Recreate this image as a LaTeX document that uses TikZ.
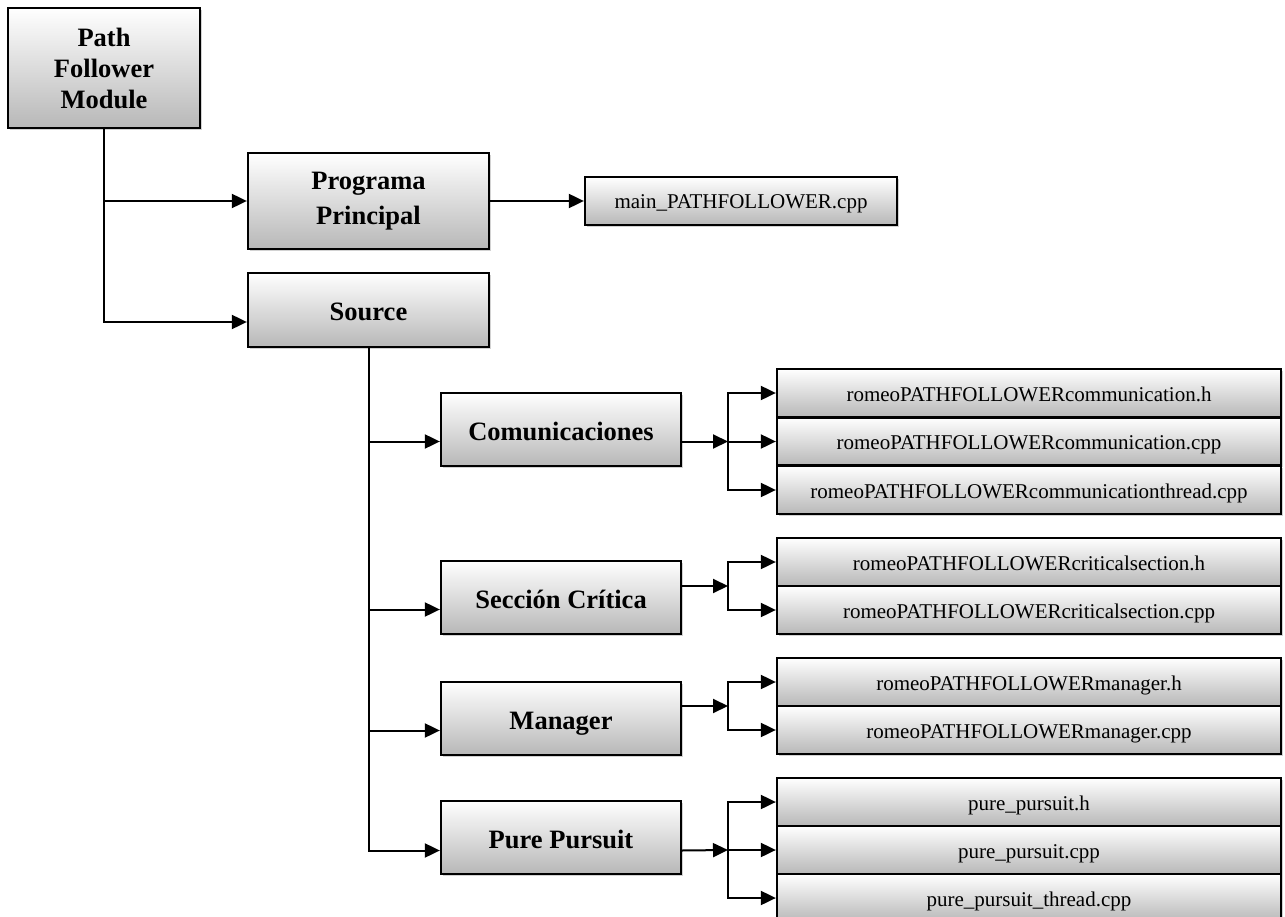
\documentclass[tikz,border=0pt]{standalone}
\usepackage{fontspec}
\setmainfont{Liberation Serif}
\usetikzlibrary{arrows.meta,shadows}
\begin{document}
\begin{tikzpicture}[x=1pt,y=-1pt,
  boxbase/.style={draw=black, line width=2.3pt, top color=white, bottom color=black!28,
    inner sep=0pt, align=center,
    drop shadow={shadow xshift=1.6pt, shadow yshift=-1.6pt, fill=black!35, opacity=0.5}},
  catbox/.style={boxbase, font=\fontsize{26.5}{31}\selectfont\bfseries},
  oneline/.style={text height=21pt, text depth=0pt},
  filebox/.style={boxbase, font=\fontsize{21}{25}\selectfont, minimum width=504pt,
    minimum height=48pt, text height=16pt, text depth=0pt},
  arr/.style={line width=2pt, -{Triangle[length=15pt,width=14pt]}}]
\useasboundingbox (0,0) rectangle (1285,917);

% branch points in front of the file lists
\coordinate (jc) at (728,441.5);
\coordinate (js) at (728,586);
\coordinate (jm) at (728,706);
\coordinate (jp) at (728,850);

% top-level module and its two branches
\node[catbox, minimum width=192pt, minimum height=120pt] (pfm) at (104,68) {Path\\Follower\\Module};
\node[catbox, minimum width=241pt, minimum height=96pt] (prog) at (368.5,201) {Programa\\[4pt]Principal};
\node[catbox, oneline, minimum width=241pt, minimum height=74pt] (src) at (368.5,310) {Source};
\node[filebox, minimum width=312pt] (mainf) at (741,201) {main\_PATHFOLLOWER.cpp};

% source groups
\node[catbox, oneline, minimum width=240pt, minimum height=73pt] (com) at (561,429.5) {Comunicaciones};
\node[catbox, oneline, minimum width=240pt, minimum height=73pt] (sec) at (561,597.5) {Sección Crítica};
\node[catbox, oneline, minimum width=240pt, minimum height=73pt] (mgr) at (561,718.5) {Manager};
\node[catbox, oneline, minimum width=240pt, minimum height=73pt] (pur) at (561,837.5) {Pure Pursuit};

% source files
\node[filebox] (c1) at (1029,393) {romeoPATHFOLLOWERcommunication.h};
\node[filebox] (c2) at (1029,441.5) {romeoPATHFOLLOWERcommunication.cpp};
\node[filebox] (c3) at (1029,490) {romeoPATHFOLLOWERcommunicationthread.cpp};
\node[filebox] (s1) at (1029,562) {romeoPATHFOLLOWERcriticalsection.h};
\node[filebox] (s2) at (1029,610) {romeoPATHFOLLOWERcriticalsection.cpp};
\node[filebox] (m1) at (1029,682) {romeoPATHFOLLOWERmanager.h};
\node[filebox] (m2) at (1029,730) {romeoPATHFOLLOWERmanager.cpp};
\node[filebox] (p1) at (1029,802) {pure\_pursuit.h};
\node[filebox] (p2) at (1029,850) {pure\_pursuit.cpp};
\node[filebox] (p3) at (1029,898) {pure\_pursuit\_thread.cpp};

% tree links
\draw[arr] (pfm.south) |- (prog.west);
\draw[arr] (pfm.south) |- ([yshift=-12pt]src.west);
\draw[arr] (prog.east) -- (mainf.west);

\draw[arr] (src.south) |- ([yshift=-12pt]com.west);
\draw[arr] (src.south) |- ([yshift=-12pt]sec.west);
\draw[arr] (src.south) |- ([yshift=-12pt]mgr.west);
\draw[arr] (src.south) |- ([yshift=-13pt]pur.west);

\draw[arr] ([yshift=-12pt]com.east) -- (jc);
\draw[arr] (jc) |- (c1.west);
\draw[arr] (jc) -- (c2.west);
\draw[arr] (jc) |- (c3.west);

\draw[arr] ([yshift=11.5pt]sec.east) -- (js);
\draw[arr] (js) |- (s1.west);
\draw[arr] (js) |- (s2.west);

\draw[arr] ([yshift=12.5pt]mgr.east) -- (jm);
\draw[arr] (jm) |- (m1.west);
\draw[arr] (jm) |- (m2.west);

\draw[arr] ([yshift=-13pt]pur.east) -- (jp);
\draw[arr] (jp) |- (p1.west);
\draw[arr] (jp) -- (p2.west);
\draw[arr] (jp) |- (p3.west);
\end{tikzpicture}
\end{document}
